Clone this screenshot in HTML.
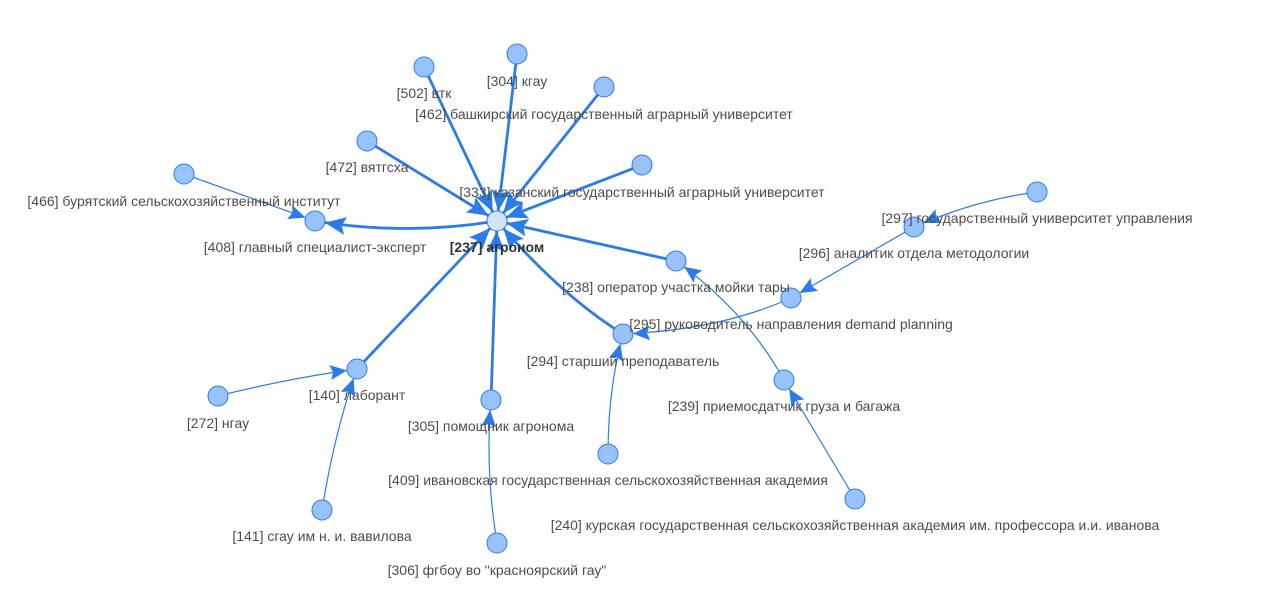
<!DOCTYPE html>
<html><head><meta charset="utf-8"><style>
html,body{margin:0;padding:0;background:#fff;width:1280px;height:608px;overflow:hidden}
text{font-family:"Liberation Sans",Arial,sans-serif;font-size:14px;fill:#4d4d4d;text-anchor:middle}
</style></head><body>
<svg width="1280" height="608" viewBox="0 0 1280 608" xmlns="http://www.w3.org/2000/svg">
<defs>
<marker id="a" markerUnits="userSpaceOnUse" viewBox="-40 -15 50 30" refX="0" refY="0" markerWidth="50" markerHeight="30" orient="auto" overflow="visible">
<path d="M-10,0 L-31,-9 L-27,0 L-31,9 z" fill="#2b7ce9"/></marker>
<marker id="b" markerUnits="userSpaceOnUse" viewBox="-40 -15 50 30" refX="0" refY="0" markerWidth="50" markerHeight="30" orient="auto" overflow="visible">
<path d="M-10,0 L-27,-7.5 L-24,0 L-27,7.5 z" fill="#2b7ce9"/></marker>
</defs>
<g stroke="#2b7ce9" fill="none" stroke-width="2.8">
<line x1="424" y1="67" x2="497" y2="221" marker-end="url(#a)"/>
<line x1="517" y1="54" x2="497" y2="221" marker-end="url(#a)"/>
<line x1="604" y1="87" x2="497" y2="221" marker-end="url(#a)"/>
<line x1="367" y1="141" x2="497" y2="221" marker-end="url(#a)"/>
<line x1="642" y1="165" x2="497" y2="221" marker-end="url(#a)"/>
<line x1="676" y1="261" x2="497" y2="221" marker-end="url(#a)"/>
<path d="M623,334 Q560,295 497,221" marker-end="url(#a)"/>
<line x1="357" y1="369" x2="497" y2="221" marker-end="url(#a)"/>
<line x1="491" y1="400" x2="497" y2="221" marker-end="url(#a)"/>
<path d="M497,221 Q406,236 315,221" marker-end="url(#a)"/>
</g>
<g stroke="#2b7ce9" fill="none" stroke-width="1.2">
<line x1="184" y1="174" x2="315" y2="221" marker-end="url(#b)"/>
<path d="M1037,192 Q975,200 914,227" marker-end="url(#b)"/>
<line x1="914" y1="227" x2="791" y2="298" marker-end="url(#b)"/>
<path d="M791,298 Q720,330 623,334" marker-end="url(#b)"/>
<path d="M608,454 Q608,390 623,334" marker-end="url(#b)"/>
<path d="M218,396 Q290,378 357,369" marker-end="url(#b)"/>
<path d="M322,510 Q335,430 357,369" marker-end="url(#b)"/>
<path d="M497,543 Q485,470 491,400" marker-end="url(#b)"/>
<line x1="855" y1="499" x2="784" y2="380" marker-end="url(#b)"/>
<path d="M784,380 Q745,310 676,261" marker-end="url(#b)"/>
</g>
<g fill="#97c2fc" stroke="#2b7ce9" stroke-width="1">
<circle cx="424" cy="67" r="10"/><circle cx="517" cy="54" r="10"/><circle cx="604" cy="87" r="10"/>
<circle cx="367" cy="141" r="10"/><circle cx="642" cy="165" r="10"/><circle cx="184" cy="174" r="10"/>
<circle cx="315" cy="221" r="10"/><circle cx="1037" cy="192" r="10"/><circle cx="914" cy="227" r="10"/>
<circle cx="676" cy="261" r="10"/><circle cx="791" cy="298" r="10"/><circle cx="623" cy="334" r="10"/>
<circle cx="357" cy="369" r="10"/><circle cx="218" cy="396" r="10"/><circle cx="784" cy="380" r="10"/>
<circle cx="491" cy="400" r="10"/><circle cx="608" cy="454" r="10"/><circle cx="322" cy="510" r="10"/>
<circle cx="855" cy="499" r="10"/><circle cx="497" cy="543" r="10"/>
<circle cx="497" cy="221" r="10" fill="#d2e5fe"/>
</g>
<text x="424" y="98">[502] втк</text>
<text x="517" y="86">[304] кгау</text>
<text x="604" y="119">[462] башкирский государственный аграрный университет</text>
<text x="367" y="172">[472] вятгсха</text>
<text x="642" y="197">[333] казанский государственный аграрный университет</text>
<text x="184" y="206">[466] бурятский сельскохозяйственный институт</text>
<text x="315" y="252">[408] главный специалист-эксперт</text>
<text x="497" y="252" style="font-weight:bold;fill:#333">[237] агроном</text>
<text x="1037" y="223">[297] государственный университет управления</text>
<text x="914" y="258">[296] аналитик отдела методологии</text>
<text x="676" y="292">[238] оператор участка мойки тары</text>
<text x="791" y="329">[295] руководитель направления demand planning</text>
<text x="623" y="366">[294] старший преподаватель</text>
<text x="357" y="400">[140] лаборант</text>
<text x="218" y="428">[272] нгау</text>
<text x="784" y="411">[239] приемосдатчик груза и багажа</text>
<text x="491" y="431">[305] помощник агронома</text>
<text x="608" y="485">[409] ивановская государственная сельскохозяйственная академия</text>
<text x="322" y="541">[141] сгау им н. и. вавилова</text>
<text x="855" y="530">[240] курская государственная сельскохозяйственная академия им. профессора и.и. иванова</text>
<text x="497" y="575">[306] фгбоу во "красноярский гау"</text>
</svg>
</body></html>
